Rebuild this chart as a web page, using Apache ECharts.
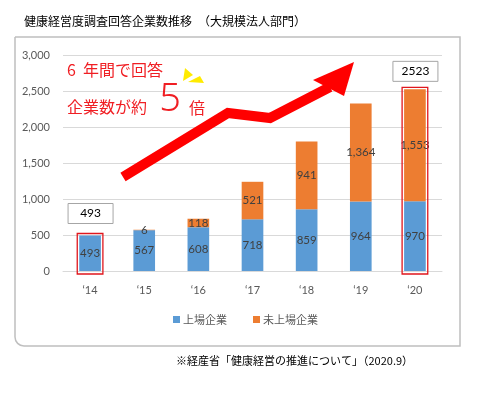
<!DOCTYPE html>
<html>
<head>
<meta charset="utf-8">
<script src="https://cdn.jsdelivr.net/npm/echarts@6/dist/echarts.min.js"></script>
<style>
    html, body { margin: 0; padding: 0; background: #fff; }
    #chart { width: 489px; height: 396px; }
</style>
</head>
<body>
<div id="chart"></div>
<script>
    var years = ['‘14', '‘15', '‘16', '‘17', '‘18', '‘19', '‘20'];
    var listed = [493, 567, 608, 718, 859, 964, 970];        //上場企業
    var unlisted = [0, 6, 118, 521, 941, 1364, 1553];        //未上場企業
    var seriesNames = ['上場企業', '未上場企業'];
    var framed = [0, 6];                                     //赤枠を付ける年

    var numFont = 'Lato, "Noto Sans CJK JP", sans-serif';
    var jpFont = '"Noto Sans CJK JP", sans-serif';

    function comma(v) {
        return String(v).replace(/\B(?=(\d{3})+(?!\d))/g, ',');
    }

    var chart = echarts.init(document.getElementById('chart'));

    var option = {
        backgroundColor: '#fff',
        animation: false,
        title: [{
            text: '健康経営度調査回答企業数推移　（大規模法人部門）',
            left: 19,
            top: 10,
            textStyle: { fontFamily: jpFont, fontSize: 12, fontWeight: 'normal', color: '#000' }
        }, {
            text: '※経産省「健康経営の推進について」（2020.9）',
            left: 171,
            top: 350,
            textStyle: { fontFamily: jpFont, fontSize: 11, fontWeight: 'normal', color: '#000' }
        }],
        legend: {
            data: seriesNames,
            left: 168,
            top: 309,
            itemWidth: 7,
            itemHeight: 7,
            itemGap: 26,
            icon: 'rect',
            textStyle: { fontFamily: jpFont, fontSize: 11, color: '#595959', padding: [0, 0, 0, -2] }
        },
        grid: { left: 63, right: 47, top: 55, bottom: 125 },
        xAxis: {
            type: 'category',
            data: years,
            axisLine: { lineStyle: { color: '#d9d9d9' } },
            axisTick: { show: false },
            axisLabel: { fontFamily: numFont, fontSize: 11, color: '#595959', margin: 14 }
        },
        yAxis: {
            type: 'value',
            min: 0,
            max: 3000,
            interval: 500,
            axisLine: { show: false },
            axisTick: { show: false },
            splitLine: { lineStyle: { color: '#d9d9d9' } },
            axisLabel: {
                fontFamily: numFont, fontSize: 11, color: '#595959', margin: 13,
                formatter: function (v) { return comma(v); }
            }
        },
        series: [{
            name: seriesNames[0],
            type: 'bar',
            stack: 'all',
            barWidth: '40%',
            data: listed,
            itemStyle: { color: '#5b9bd5' },
            label: {
                show: true, position: 'inside',
                fontFamily: numFont, fontSize: 11.5, color: '#404040',
                formatter: function (p) { return comma(p.value); }
            }
        }, {
            name: seriesNames[1],
            type: 'bar',
            stack: 'all',
            barWidth: '40%',
            data: unlisted,
            itemStyle: { color: '#ed7d31' },
            label: {
                show: true, position: 'inside',
                fontFamily: numFont, fontSize: 11.5, color: '#404040',
                formatter: function (p) { return p.value ? comma(p.value) : ''; }
            }
        }]
    };
    chart.setOption(option);

    //注釈（枠・矢印・テキスト）
    function drawNotes() {
        var graphics = [];
        var red = '#ff0000';

        graphics.push({
            type: 'rect',
            shape: { x: 15, y: 37, width: 445, height: 309, r: [0, 0, 0, 9] },
            style: { fill: 'none', stroke: '#bfbfbf', lineWidth: 1.5 },
            z: 0
        });

        var p0 = chart.convertToPixel({ gridIndex: 0 }, [0, 0]);
        var p1 = chart.convertToPixel({ gridIndex: 0 }, [1, 0]);
        var barW = (p1[0] - p0[0]) * 0.4;

        framed.forEach(function (i) {
            var total = listed[i] + unlisted[i];
            var top = chart.convertToPixel({ gridIndex: 0 }, [i, total]);
            var base = chart.convertToPixel({ gridIndex: 0 }, [i, 0]);
            graphics.push({
                type: 'rect',
                shape: { x: top[0] - barW / 2 - 2, y: top[1] - 2, width: barW + 4, height: base[1] - top[1] + 5 },
                style: { fill: 'none', stroke: '#e0161d', lineWidth: 1.3 },
                z: 10
            });
            var boxY = top[1] - (i === 0 ? 32 : 28);
            graphics.push({
                type: 'rect',
                shape: { x: top[0] - 22, y: boxY, width: 45, height: 20 },
                style: { fill: '#fff', stroke: '#a6a6a6', lineWidth: 1 },
                z: 10
            });
            graphics.push({
                type: 'text',
                x: top[0] + 0.5, y: boxY + 10,
                style: {
                    text: String(total), fontFamily: numFont, fontSize: 12, fill: '#000',
                    align: 'center', verticalAlign: 'middle'
                },
                z: 11
            });
        });

        //赤い矢印
        graphics.push({
            type: 'polyline',
            shape: { points: [[123, 177], [228, 113], [270, 118], [330, 87]] },
            style: { stroke: red, lineWidth: 10, fill: 'none', lineJoin: 'miter' },
            z: 12
        });
        graphics.push({
            type: 'polygon',
            shape: { points: [[354, 62], [313, 80], [344, 96]] },
            style: { fill: red },
            z: 12
        });

        //黄色の強調マーク
        graphics.push({
            type: 'polygon',
            shape: { points: [[183, 81], [185, 68], [193, 75]] },
            style: { fill: '#ffeb00' },
            z: 12
        });
        graphics.push({
            type: 'polygon',
            shape: { points: [[188, 82], [200, 76], [204, 83]] },
            style: { fill: '#ffeb00' },
            z: 12
        });

        var noteStyle = { fontFamily: jpFont, fontSize: 16, fill: '#f01e23', verticalAlign: 'middle' };
        graphics.push({
            type: 'text', x: 67, y: 70,
            style: echarts.util.extend({ text: '6' }, noteStyle), z: 12
        });
        graphics.push({
            type: 'text', x: 83, y: 70,
            style: echarts.util.extend({ text: '年間で回答' }, noteStyle), z: 12
        });
        graphics.push({
            type: 'text', x: 67, y: 107,
            style: echarts.util.extend({ text: '企業数が約' }, noteStyle), z: 12
        });
        graphics.push({
            type: 'text', x: 170, y: 100,
            style: {
                text: '5', fontFamily: '"Noto Sans", sans-serif', fontSize: 38, fontWeight: 300,
                fill: '#f01e23', align: 'center', verticalAlign: 'middle'
            },
            z: 12
        });
        graphics.push({
            type: 'text', x: 189, y: 108,
            style: echarts.util.extend({ text: '倍' }, noteStyle), z: 12
        });

        chart.setOption({ graphic: graphics });
    }

    drawNotes();
</script>
</body>
</html>
